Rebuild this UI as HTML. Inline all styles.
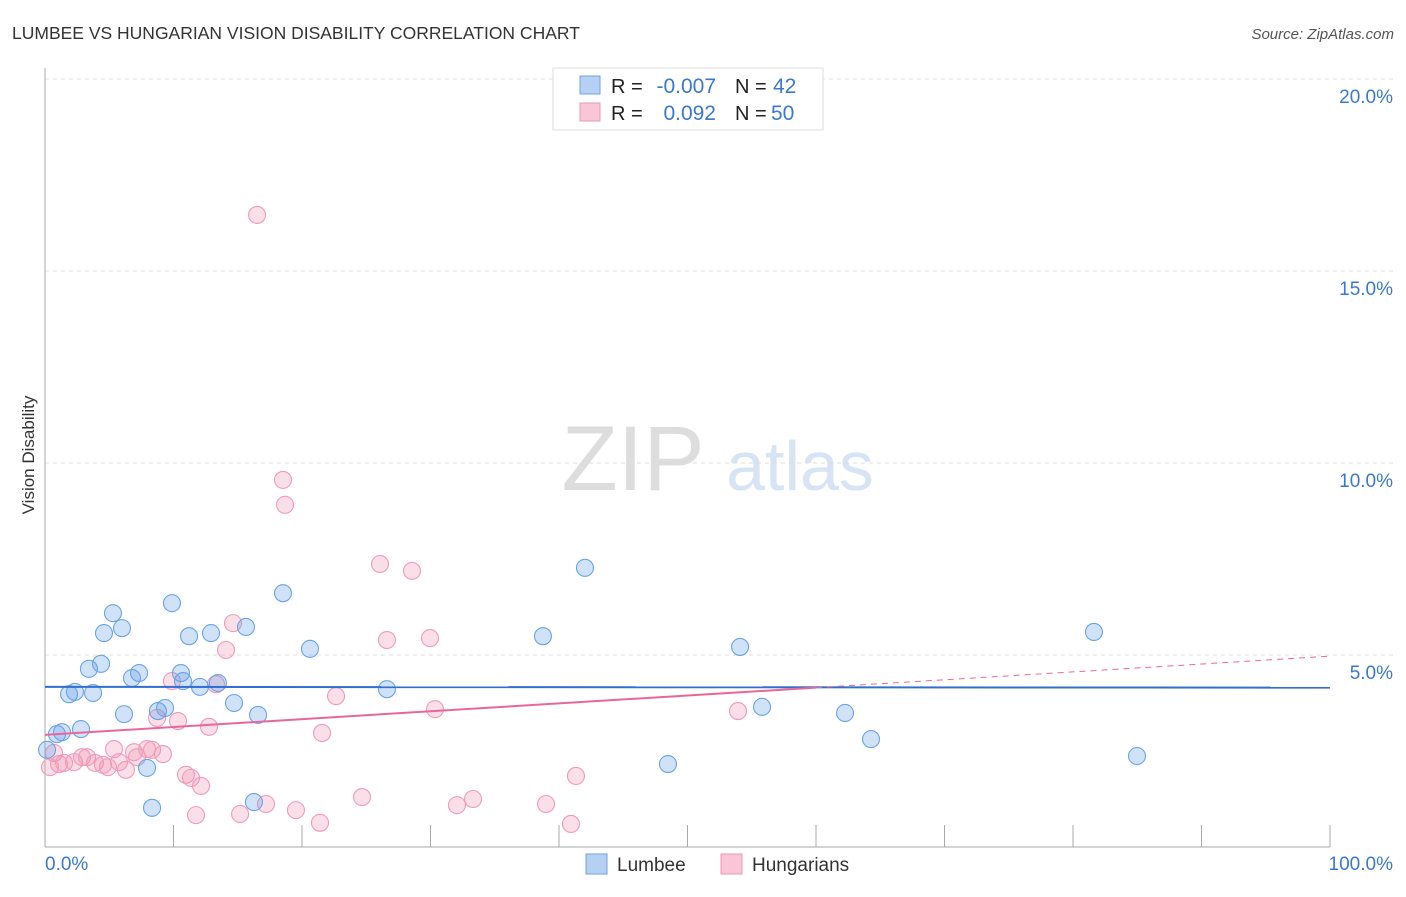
<!DOCTYPE html>
<html><head><meta charset="utf-8"><style>
body{margin:0;background:#fff;font-family:"Liberation Sans",sans-serif;}
svg text{font-family:"Liberation Sans",sans-serif;}
</style></head><body>
<svg id="c" width="1406" height="892" xmlns="http://www.w3.org/2000/svg">
<text x="12" y="39" font-size="17.5" fill="#333">LUMBEE VS HUNGARIAN VISION DISABILITY CORRELATION CHART</text>
<text x="1394" y="39" font-size="15" fill="#555" font-style="italic" text-anchor="end">Source: ZipAtlas.com</text>
<text x="633" y="490" font-size="92" fill="#ddd" font-family="Liberation Serif" text-anchor="middle">ZIP</text>
<text x="800" y="490" font-size="70" fill="#d6e4f5" text-anchor="middle">atlas</text>
<text x="34" y="455" font-size="17" fill="#333" text-anchor="middle" transform="rotate(-90 34 455)">Vision Disability</text>
<g id="grid"></g><g id="pts"></g><g id="trend"></g>
<g>
<rect x="553" y="68" width="270" height="62" fill="#fff" stroke="#ddd"/>
<rect x="580" y="76" width="20" height="18" fill="#b5d0f2" stroke="#6fa3e6"/>
<rect x="580" y="103" width="20" height="18" fill="#f8c6d6" stroke="#ee95b3"/>
<text x="611" y="93" font-size="20" fill="#222">R =</text>
<text x="716" y="93" font-size="21" fill="#3a78d0" text-anchor="end">-0.007</text>
<text x="735" y="93" font-size="20" fill="#222">N =</text>
<text x="773" y="93" font-size="21" fill="#3a78d0">42</text>
<text x="611" y="120" font-size="20" fill="#222">R =</text>
<text x="716" y="120" font-size="21" fill="#3a78d0" text-anchor="end">0.092</text>
<text x="735" y="120" font-size="20" fill="#222">N =</text>
<text x="771" y="120" font-size="21" fill="#3a78d0">50</text>
</g>
<g>
<rect x="586" y="854" width="21" height="20" fill="#b5d0f2" stroke="#6fa3e6"/>
<text x="617" y="871" font-size="19" fill="#333">Lumbee</text>
<rect x="721" y="854" width="21" height="20" fill="#f8c6d6" stroke="#ee95b3"/>
<text x="752" y="871" font-size="19" fill="#333">Hungarians</text>
</g>
</svg>
<script>
const yTicks=[5,10,15,20];
const yTickLabels=["5.0%","10.0%","15.0%","20.0%"];
const xTicks=[0,10,20,30,40,50,60,70,80,90,100];
const lumbeeX=[0.16,0.93,1.32,1.87,2.33,2.8,3.74,3.42,4.36,4.59,5.29,5.99,6.15,6.77,7.32,7.94,8.33,8.79,9.34,9.88,10.58,10.74,11.21,12.06,12.92,13.46,14.71,15.64,16.26,16.58,18.52,20.62,26.61,38.75,42.02,48.48,54.09,55.8,62.26,64.28,81.63,84.98];
const lumbeeY=[2.53,2.94,2.99,3.98,4.04,3.07,4.01,4.64,4.77,5.57,6.09,5.7,3.46,4.4,4.53,2.06,1.02,3.54,3.62,6.35,4.53,4.32,5.49,4.17,5.57,4.27,3.75,5.73,1.17,3.44,6.61,5.16,4.11,5.49,7.27,2.16,5.21,3.65,3.49,2.81,5.6,2.37];
const hungX=[16.5,18.52,18.68,26.07,28.56,26.61,29.96,14.63,14.09,9.88,13.31,22.65,30.35,53.93,10.35,8.72,12.76,21.56,0.7,0.39,1.09,1.48,2.26,2.88,3.27,3.89,4.51,4.9,5.37,5.76,6.3,6.93,7.16,7.94,8.33,9.18,10.97,11.36,12.14,11.75,15.18,17.2,19.53,21.4,24.67,32.06,33.31,38.99,40.93,41.32];
const hungY=[16.46,9.56,8.91,7.37,7.19,5.39,5.44,5.83,5.13,4.32,4.24,3.93,3.59,3.54,3.28,3.36,3.13,2.97,2.45,2.08,2.16,2.19,2.21,2.34,2.34,2.19,2.14,2.08,2.55,2.21,2.01,2.47,2.34,2.55,2.53,2.42,1.88,1.8,1.59,0.83,0.86,1.12,0.96,0.63,1.3,1.09,1.25,1.12,0.6,1.85];
const lumbeeTrend=[4.17,4.15];
const hungTrend=[2.92,4.97];
const NS="http://www.w3.org/2000/svg";
const X=v=>45+v*12.85, Y=v=>847-v*38.4;
function mk(parent,tag,attrs){const e=document.createElementNS(NS,tag);for(const k in attrs)e.setAttribute(k,attrs[k]);document.getElementById(parent).appendChild(e);return e;}
yTicks.forEach((t,i)=>{
 const l=mk('grid','line',{x1:45,x2:1394,y1:Y(t),y2:Y(t),stroke:'#ddd','stroke-dasharray':'4,4'});
 
 
 const tx=mk('grid','text',{x:1393,y:Y(t)+24,'font-size':19,fill:'#3a78d0','text-anchor':'end'});
 tx.textContent=yTickLabels[i];
 
 
});
const ax=mk('grid','line',{x1:45,x2:45,y1:68,y2:847,stroke:'#aaa'});


const bx=mk('grid','line',{x1:45,x2:1330,y1:847,y2:847,stroke:'#aaa'});


xTicks.forEach(t=>{const l=mk('grid','line',{x1:X(t),x2:X(t),y1:825,y2:847,stroke:'#aaa'});
 
 });
let t0=mk('grid','text',{x:45,y:870,'font-size':19,fill:'#3a78d0'});t0.textContent=xTicks[0].toFixed(1)+'%';


let t1=mk('grid','text',{x:1393,y:870,'font-size':19,fill:'#3a78d0','text-anchor':'end'});t1.textContent=xTicks[xTicks.length-1].toFixed(1)+'%';


hungX.forEach((x,i)=>{const c=mk('pts','circle',{cx:X(x),cy:Y(hungY[i]),r:8.5,fill:'rgba(240,150,180,0.3)',stroke:'#ef9bb8','stroke-width':1.1});
 
 });
lumbeeX.forEach((x,i)=>{const c=mk('pts','circle',{cx:X(x),cy:Y(lumbeeY[i]),r:8.5,fill:'rgba(100,160,230,0.3)',stroke:'#6aa4e4','stroke-width':1.1});
 
 });
const bl=mk('trend','line',{x1:X(0),x2:X(100),y1:Y(lumbeeTrend[0]),y2:Y(lumbeeTrend[1]),stroke:'#2f6fd0','stroke-width':2});


const hAt=x=>hungTrend[0]+(hungTrend[1]-hungTrend[0])*x/100;
const ps=mk('trend','line',{x1:X(0),x2:X(60),y1:Y(hAt(0)),y2:Y(hAt(60)),stroke:'#e8679a','stroke-width':2});


const pd=mk('trend','line',{x1:X(60),x2:X(100),y1:Y(hAt(60)),y2:Y(hAt(100)),stroke:'#e8679a','stroke-width':1,'stroke-dasharray':'6,5'});


</script>
</body></html>
